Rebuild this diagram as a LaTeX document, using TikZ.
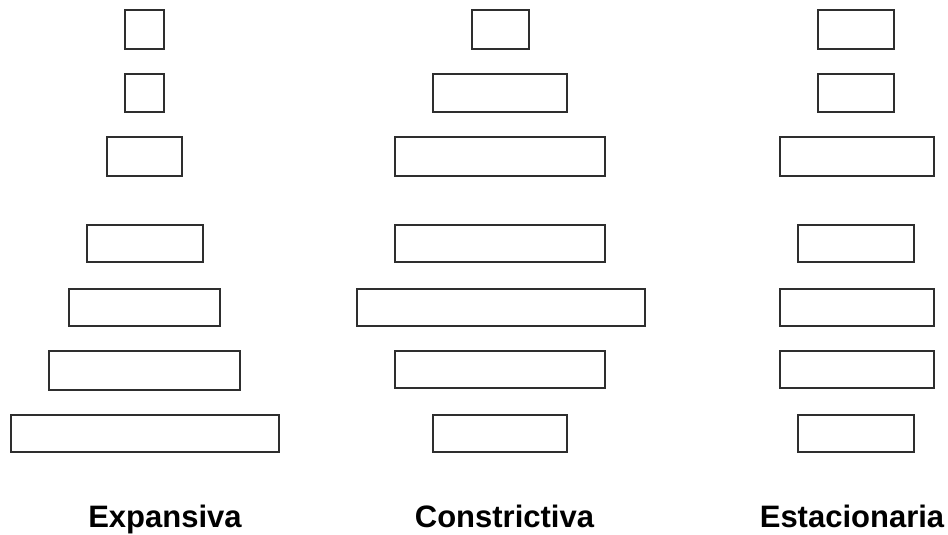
\documentclass[tikz,border=0pt]{standalone}
\usepackage{fontspec}
\setmainfont{Liberation Sans}
\begin{document}
\begin{tikzpicture}[x=1pt,y=-1pt,
  bar/.style={draw=black!82,line width=2pt,inner sep=0pt,outer sep=0pt},
  caption/.style={anchor=base,inner sep=0pt,font=\fontsize{31}{31}\selectfont\bfseries}]
\useasboundingbox (0,0) rectangle (948,535);
% Expansive pyramid
\node[bar,minimum width=39pt,minimum height=39pt]  (e1) at (144,30) {};
\node[bar,minimum width=39pt,minimum height=37pt]  (e2) at (144,93) {};
\node[bar,minimum width=75pt,minimum height=39pt]  (e3) at (144,156) {};
\node[bar,minimum width=116pt,minimum height=37pt] (e4) at (144.5,243) {};
\node[bar,minimum width=151pt,minimum height=37pt] (e5) at (144,307) {};
\node[bar,minimum width=191pt,minimum height=39pt] (e6) at (144,370) {};
\node[bar,minimum width=268pt,minimum height=37pt] (e7) at (144.5,433.5) {};
% Constrictive pyramid
\node[bar,minimum width=57pt,minimum height=39pt]  (c1) at (500,30) {};
\node[bar,minimum width=134pt,minimum height=37pt] (c2) at (500,93) {};
\node[bar,minimum width=210pt,minimum height=39pt] (c3) at (500,156) {};
\node[bar,minimum width=210pt,minimum height=37pt] (c4) at (500,243) {};
\node[bar,minimum width=288pt,minimum height=37pt] (c5) at (500.8,307.5) {};
\node[bar,minimum width=210pt,minimum height=37pt] (c6) at (500,369.5) {};
\node[bar,minimum width=134pt,minimum height=37.5pt] (c7) at (500,433.7) {};
% Stationary pyramid
\node[bar,minimum width=76pt,minimum height=39pt]  (s1) at (856,30) {};
\node[bar,minimum width=76pt,minimum height=37pt]  (s2) at (856,93) {};
\node[bar,minimum width=154pt,minimum height=39pt] (s3) at (856.5,156) {};
\node[bar,minimum width=116pt,minimum height=37pt] (s4) at (856,243) {};
\node[bar,minimum width=154pt,minimum height=37pt] (s5) at (856.5,307) {};
\node[bar,minimum width=154pt,minimum height=37pt] (s6) at (856.5,369.5) {};
\node[bar,minimum width=116pt,minimum height=37.5pt] (s7) at (856,433.7) {};
% Captions
\node[caption] (tE) at (165,527) {Expansiva};
\node[caption] (tC) at (504.5,527) {Constrictiva};
\node[caption] (tS) at (852,527) {Estacionaria};
\end{tikzpicture}
\end{document}
